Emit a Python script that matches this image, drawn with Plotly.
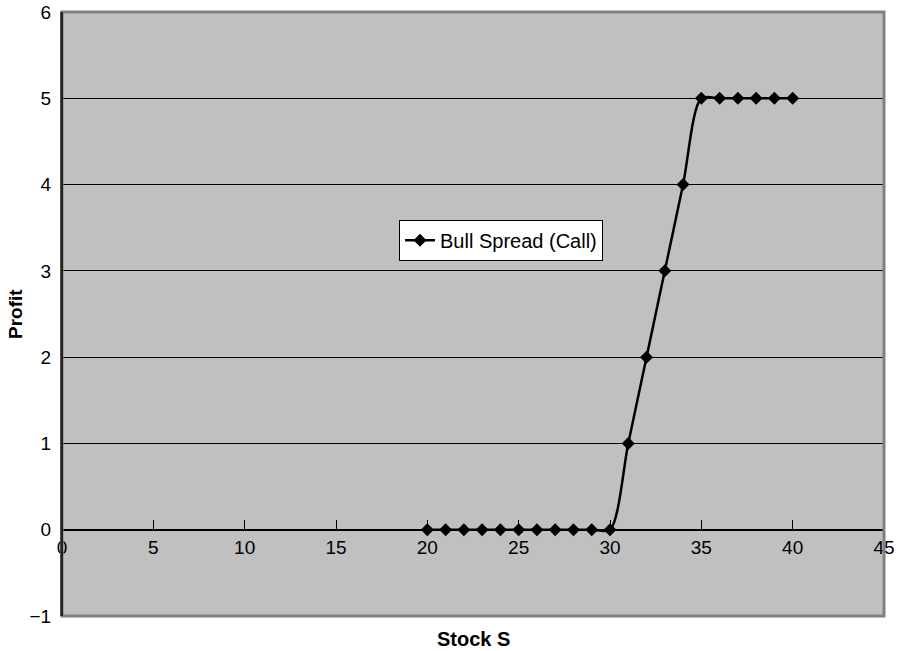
import plotly.graph_objects as go

# Stock price at expiry vs. profit of the bull spread
stock_price = [20, 21, 22, 23, 24, 25, 26, 27, 28, 29, 30,
               31, 32, 33, 34, 35, 36, 37, 38, 39, 40]
profit = [0, 0, 0, 0, 0, 0, 0, 0, 0, 0, 0,
          1, 2, 3, 4, 5, 5, 5, 5, 5, 5]

x_ticks = [0, 5, 10, 15, 20, 25, 30, 35, 40, 45]
y_ticks = [-1, 0, 1, 2, 3, 4, 5, 6]
y_labels = ["\u22121", "0", "1", "2", "3", "4", "5", "6"]

font_family = "Liberation Sans, Arial, sans-serif"

fig = go.Figure()

fig.add_trace(
    go.Scatter(
        x=stock_price,
        y=profit,
        mode="lines+markers",
        name="Bull Spread (Call)",
        line=dict(color="black", width=2.5, shape="spline", smoothing=0.8),
        marker=dict(symbol="diamond", size=10, color="black"),
    )
)

fig.update_layout(
    width=900,
    height=651,
    margin=dict(l=62, r=16, t=12, b=35, autoexpand=False),
    paper_bgcolor="white",
    plot_bgcolor="#c0c0c0",
    font=dict(family=font_family, size=19, color="black"),
    showlegend=True,
    legend=dict(
        x=0.41,
        y=0.656,
        xanchor="left",
        yanchor="top",
        bgcolor="white",
        bordercolor="black",
        borderwidth=1,
        font=dict(size=20),
        tracegroupgap=0,
        itemwidth=30,
    ),
    xaxis=dict(
        range=[0, 45],
        tickmode="array",
        tickvals=x_ticks,
        showgrid=False,
        zeroline=False,
        showline=True,
        linecolor="black",
        linewidth=1,
        ticks="inside",
        ticklen=10,
        tickcolor="black",
        anchor="free",
        position=1 / 7,
        automargin=False,
        ticklabelstandoff=0,
    ),
    yaxis=dict(
        range=[-1, 6],
        tickmode="array",
        tickvals=y_ticks,
        ticktext=y_labels,
        showgrid=True,
        gridcolor="black",
        gridwidth=1,
        zeroline=False,
        showline=True,
        linecolor="#222222",
        linewidth=2,
        ticks="",
        ticklabelstandoff=5,
        automargin=False,
    ),
)

# plot-area border (gray on top, right and bottom)
fig.add_shape(
    type="rect", xref="paper", yref="paper", x0=0, y0=0, x1=1, y1=1,
    line=dict(color="#808080", width=3), layer="above",
)
fig.add_shape(
    type="line", xref="paper", yref="paper", x0=0, y0=0, x1=0, y1=1,
    line=dict(color="#222222", width=2), layer="above",
)

fig.add_annotation(
    text="<b>Stock S</b>", xref="paper", yref="paper",
    x=0.5, y=0, yanchor="middle", yshift=-23, showarrow=False,
    font=dict(size=20),
)
fig.add_annotation(
    text="<b>Profit</b>", xref="paper", yref="paper",
    x=0, xanchor="center", xshift=-47, y=0.5, textangle=-90, showarrow=False,
    font=dict(size=19),
)

# drop the default 8px page margin so the figure sits at the window corner
fig.write_html(
    "out.html",
    config={"displayModeBar": False},
    post_script="document.body.style.margin='0';",
)
